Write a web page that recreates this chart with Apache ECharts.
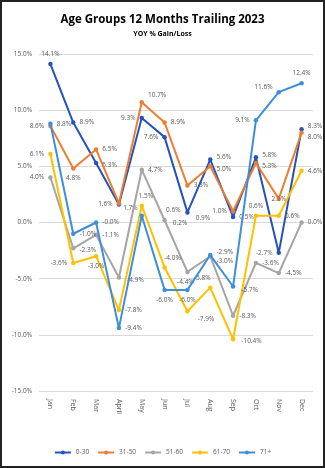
<!DOCTYPE html>
<html><head><meta charset="utf-8">
<script src="https://cdn.jsdelivr.net/npm/echarts@6/dist/echarts.min.js"></script>
<style>html,body{margin:0;padding:0;background:#fff}#c{width:325px;height:468px}</style>
</head><body><div id="c"></div>
<script>
const categories = ['Jan','Feb','Mar','April','May','Jun','Jul','Aug','Sep','Oct','Nov','Dec'];
const seriesNames = ['0-30','31-50','51-60','61-70','71+'];
const s0_30  = [14.1, 8.9, 5.3, 1.6, 9.3, 7.6, 0.9, 5.6, 0.5, 5.8, -2.7, 8.3];
const s31_50 = [8.6, 4.8, 6.5, 1.7, 10.7, 8.9, 3.3, 5.0, 1.0, 5.3, 2.1, 8.0];
const s51_60 = [4.0, -2.3, -1.1, -4.9, 4.7, 0.2, -4.4, -3.0, -8.3, -3.6, -4.5, 0.0];
const s61_70 = [6.1, -3.6, -3.0, -7.8, 1.5, -4.0, -7.9, -5.8, -10.4, 0.6, 0.6, 4.6];
const s71p   = [8.8, -1.0, -0.0, -9.4, 0.6, -6.0, -6.0, -2.9, -5.7, 9.1, 11.6, 12.4];
const yTicks = [-15, -10, -5, 0, 5, 10, 15];

const colors = ['#2653BA', '#ED7D31', '#A5A5A5', '#FFC000', '#3E8EDB'];
const labelPos = [
  ['top','right','right','left','left','left','right','right','right','right','left','right'],
  ['left','bottom','right','right','right','right','right','right','left','right','inside','right'],
  ['left','right','right','right','right','right','bottom','right','right','right','right','right'],
  ['left','left','bottom','right','top','top','right','top','right','top','right','right'],
  ['right','right','right','right','right','bottom','bottom','right','right','left','left','top']
];
const labelOff = [
  [[0,0],[0,0],[0,2],[0,0],[0,0],[0,0],[2,6],[0,-2],[0,0],[0,-2],[0,0],[0,-3]],
  [[0,0],[0,0],[0,0],[-2,5],[0,-7],[0,0],[0,0],[0,3],[0,0],[0,3],[0,0],[0,5]],
  [[0,0],[0,2],[0,0],[2,3],[0,0],[2,3],[-2,0],[0,5],[0,0],[0,0],[0,0],[0,0]],
  [[0,0],[0,0],[0,0],[0,0],[4,0],[8,0],[4,8],[-8,0],[2,2],[0,0],[0,0],[0,0]],
  [[0,0],[0,0],[0,0],[0,0],[18,-6],[0,0],[0,0],[0,-3],[2,4],[0,0],[0,-5],[0,0]]
];
const allData = [s0_30, s31_50, s51_60, s61_70, s71p];

const fmt = v => (v === 0 && 1/v < 0 ? '-0.0' : v.toFixed(1)) + '%';

const chart = echarts.init(document.getElementById('c'));
chart.setOption({
  animation: false,
  color: colors,
  title: [
    {text: 'Age Groups 12 Months Trailing 2023', left: 'center', top: 9,
     textStyle: {fontFamily: 'Open Sans', fontWeight: 'bold', fontSize: 11.5, color: '#000'}},
    {text: 'YOY % Gain/Loss', left: 'center', top: 25,
     textStyle: {fontFamily: 'Open Sans', fontWeight: 'bold', fontSize: 7, color: '#000'}}
  ],
  graphic: [{type: 'rect', shape: {x: 1, y: 1, width: 323, height: 466},
    style: {fill: 'none', stroke: '#222', lineWidth: 2}}],
  grid: {left: 39, right: 12, top: 54, bottom: 77},
  legend: {bottom: 7, left: 'center', itemWidth: 16, itemHeight: 5, itemGap: 8,
    textStyle: {fontSize: 6.5, color: '#595959', fontFamily: 'Open Sans'},
    data: seriesNames},
  xAxis: {type: 'category', data: categories, boundaryGap: true,
    axisLine: {show: false}, axisTick: {show: false},
    axisLabel: {rotate: -90, fontSize: 7, color: '#595959', fontFamily: 'Open Sans', margin: 8}},
  yAxis: {type: 'value', min: yTicks[0], max: yTicks[yTicks.length-1], interval: 5,
    axisLabel: {formatter: v => v.toFixed(1) + '%', fontSize: 6.5, color: '#595959', fontFamily: 'Open Sans', margin: 7},
    splitLine: {lineStyle: {color: '#D9D9D9', width: 1}}},
  series: allData.map((d, i) => ({
    name: seriesNames[i], type: 'line', z: 2 + i,
    data: d.map((v, j) => ({value: v,
      label: {position: labelPos[i][j], offset: labelOff[i][j]}})),
    symbol: 'circle', symbolSize: 4.5,
    lineStyle: {width: 2, color: colors[i]},
    itemStyle: {color: colors[i]},
    label: {show: true, fontSize: 6.5, color: '#595959', fontFamily: 'Open Sans',
      formatter: p => fmt(p.value), distance: 4}
  }))
});
</script></body></html>
